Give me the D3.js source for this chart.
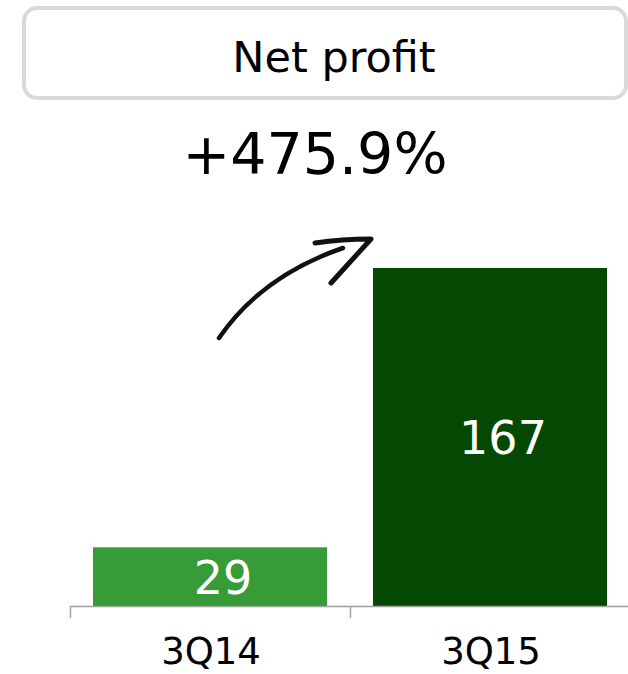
<!DOCTYPE html>
<html>
<head>
<meta charset="utf-8">
<script src="https://cdn.jsdelivr.net/npm/d3@7"></script>
<style>
  body { margin: 0; background: #fff; }
  text { font-family: "DejaVu Sans", Verdana, sans-serif; }
</style>
</head>
<body>
<div id="chart"></div>
<script>
// data
var categories = ["3Q14", "3Q15"];
var values = [29, 167];
var barColors = ["#379b37", "#034803"];
var title = "Net profit";
var change = "+475.9%";

var width = 628,
    height = 674;

var svg = d3.select("#chart").append("svg")
    .attr("width", width)
    .attr("height", height);

// title box
svg.append("rect")
    .attr("x", 24).attr("y", 8)
    .attr("width", 602).attr("height", 90)
    .attr("rx", 13).attr("ry", 13)
    .attr("fill", "#fff")
    .attr("stroke", "#d9d9d9")
    .attr("stroke-width", 4);

svg.append("text")
    .attr("x", 334).attr("y", 72)
    .attr("text-anchor", "middle")
    .attr("font-size", 43)
    .text(title);

svg.append("text")
    .attr("x", 315).attr("y", 174)
    .attr("text-anchor", "middle")
    .attr("font-size", 57)
    .text(change);

// scales
var baseY = 606;
var x = d3.scaleBand()
    .domain(categories)
    .range([70, 630])
    .paddingInner(0.164)
    .paddingOuter(0.082);

var y = d3.scaleLinear()
    .domain([0, 167])
    .range([baseY, 268]);

// bars
svg.selectAll("rect.bar")
    .data(values)
    .enter().append("rect")
    .attr("class", "bar")
    .attr("x", function(d, i) { return x(categories[i]); })
    .attr("y", function(d) { return y(d); })
    .attr("width", x.bandwidth())
    .attr("height", function(d) { return baseY - y(d); })
    .attr("fill", function(d, i) { return barColors[i]; });

// value labels (sit a little right of bar centre, as in the original)
svg.selectAll("text.val")
    .data(values)
    .enter().append("text")
    .attr("class", "val")
    .attr("x", function(d, i) { return x(categories[i]) + x.bandwidth() / 2 + 13; })
    .attr("y", function(d) { return (y(d) + baseY) / 2 + 17; })
    .attr("text-anchor", "middle")
    .attr("font-size", 46)
    .attr("fill", "#fff")
    .text(function(d) { return d; });

// axis line and ticks
svg.append("line")
    .attr("x1", 70).attr("x2", width)
    .attr("y1", baseY + 0.5).attr("y2", baseY + 0.5)
    .attr("stroke", "#a0a0a0").attr("stroke-width", 1.5);

svg.selectAll("line.tick")
    .data([0, 1, 2])
    .enter().append("line")
    .attr("class", "tick")
    .attr("x1", function(d) { return 70.5 + d * x.step(); })
    .attr("x2", function(d) { return 70.5 + d * x.step(); })
    .attr("y1", baseY).attr("y2", 618)
    .attr("stroke", "#a0a0a0").attr("stroke-width", 1.5);

svg.selectAll("text.cat")
    .data(categories)
    .enter().append("text")
    .attr("class", "cat")
    .attr("x", function(d) { return x(d) + x.bandwidth() / 2 + 1; })
    .attr("y", 664)
    .attr("text-anchor", "middle")
    .attr("font-size", 37)
    .text(function(d) { return d; });

// hand drawn arrow
var g = svg.append("g")
    .attr("fill", "none")
    .attr("stroke", "#111")
    .attr("stroke-linecap", "round")
    .attr("stroke-linejoin", "round");

g.append("path")
    .attr("d", "M219,338 C245,300 285,268 343,248")
    .attr("stroke-width", 4.5);

g.append("path")
    .attr("d", "M315,243 C335,240 355,239 371,239 L331,283")
    .attr("stroke-width", 5);
</script>
</body>
</html>
